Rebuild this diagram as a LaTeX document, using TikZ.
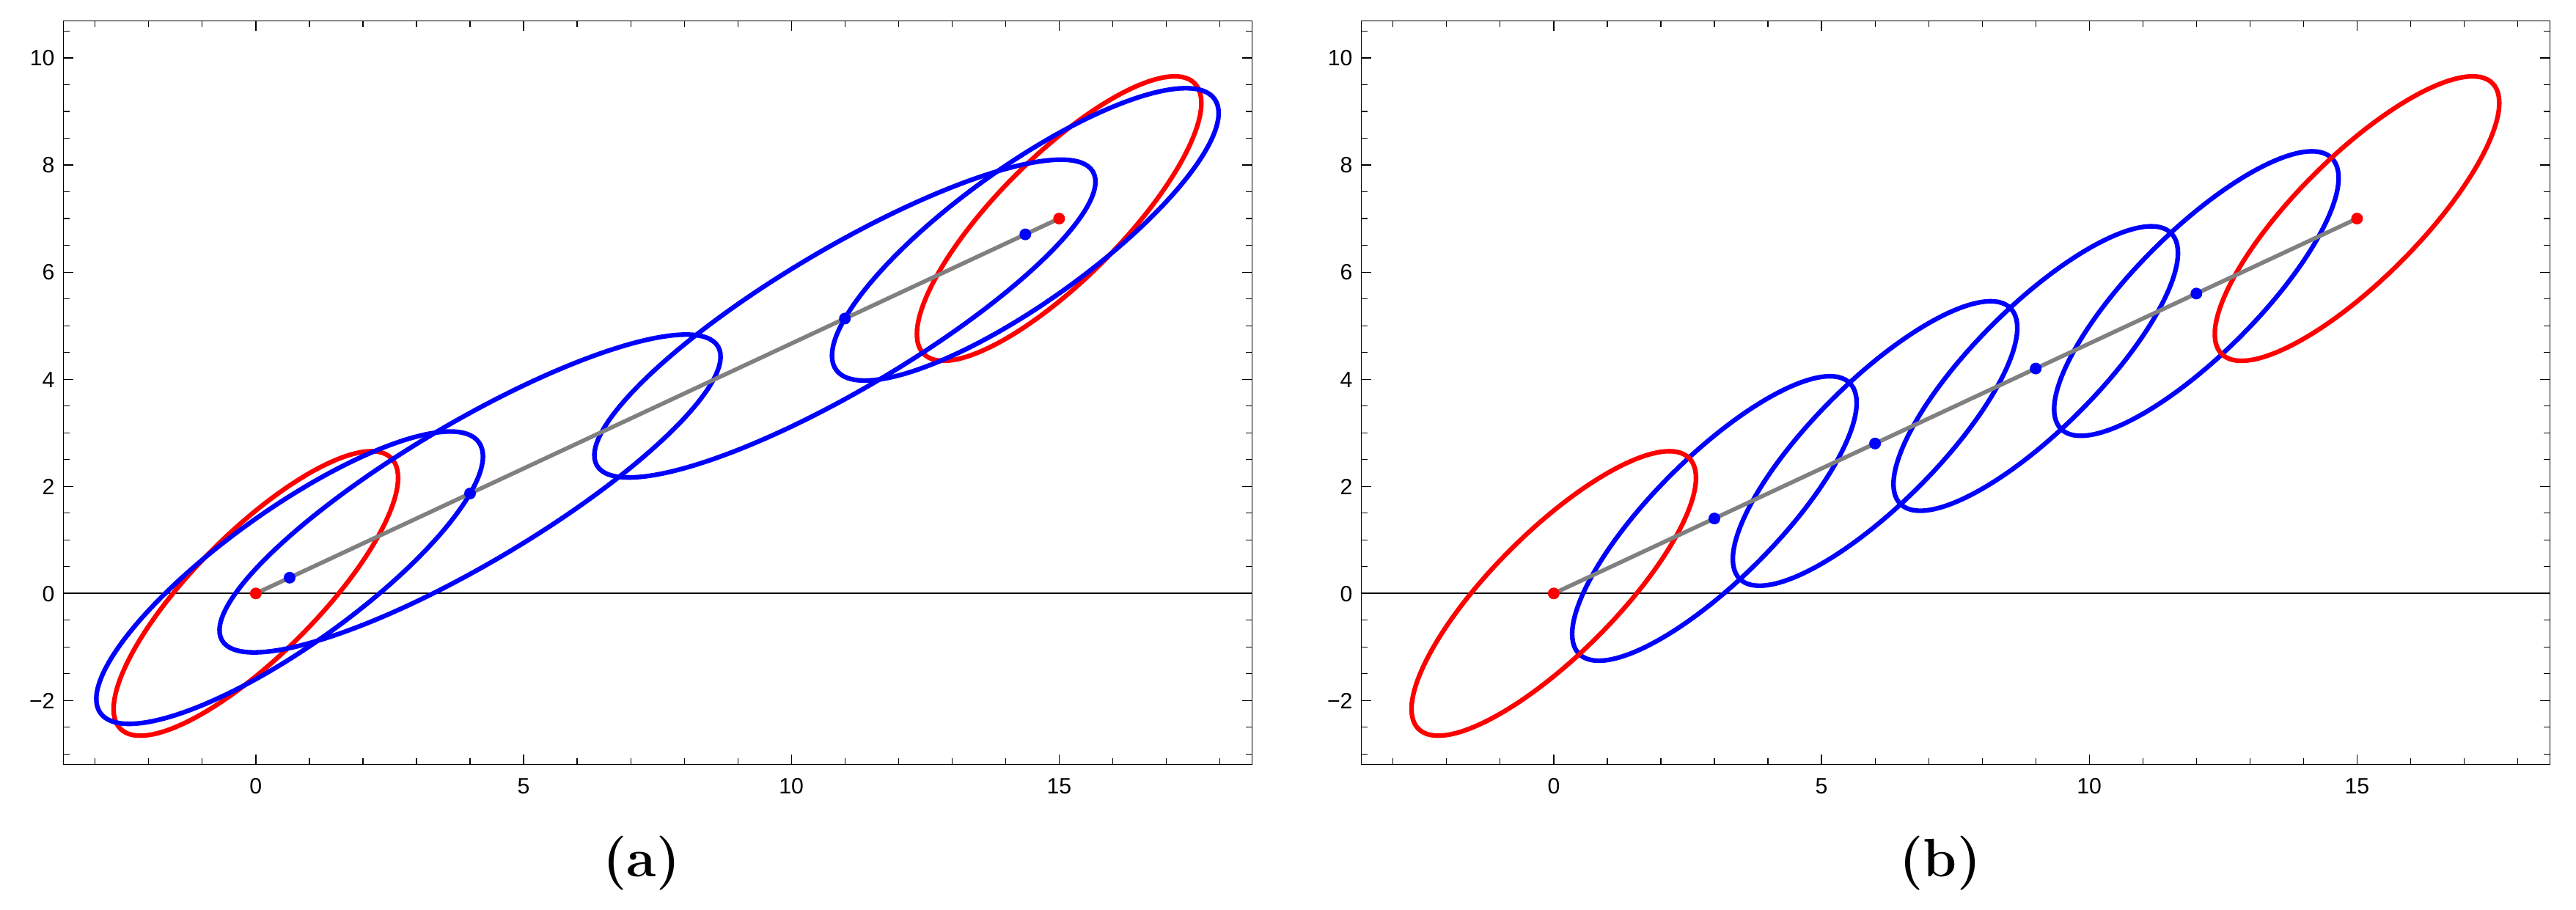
\documentclass[tikz,border=0pt]{standalone}
\usepackage{fontspec}
\newfontfamily\ticksf{Liberation Sans}
\definecolor{mred}{rgb}{1,0,0}
\definecolor{mblue}{rgb}{0,0,1}
\definecolor{mgray}{rgb}{0.5,0.5,0.5}
\tikzset{
  frameline/.style={line width=0.34pt, black},
  axisline/.style={line width=0.6pt, black},
  redell/.style={line width=1.8pt, mred},
  blueell/.style={line width=1.8pt, mblue},
  pathline/.style={line width=1.6pt, mgray},
  reddot/.style={circle, fill=mred, inner sep=0pt, minimum size=0.16cm},
  bluedot/.style={circle, fill=mblue, inner sep=0pt, minimum size=0.16cm},
  xticklab/.style={anchor=base, yshift=-0.407cm, inner sep=0pt, font=\ticksf\fontsize{8.6}{10}\selectfont},
  yticklab/.style={anchor=base east, xshift=-0.115cm, yshift=-3.08pt, inner sep=0pt, font=\ticksf\fontsize{8.6}{10}\selectfont},
  sublab/.style={anchor=base, inner sep=0pt, font=\bfseries\fontsize{21}{25}\selectfont}
}
\newcommand\drawplotframe{%
  \draw[axisline] (-3.59,0) -- (18.60,0);
  \draw[frameline] (-3.59,-3.19) rectangle (18.60,10.69);
  \foreach \x in {-3,...,18} {
    \draw[frameline] (\x,-3.19) -- ++(0pt,0.08cm);
    \draw[frameline] (\x,10.69) -- ++(0pt,-0.08cm);
  }
  \foreach \x in {0,5,10,15} {
    \draw[frameline] (\x,-3.19) -- ++(0pt,0.13cm);
    \draw[frameline] (\x,10.69) -- ++(0pt,-0.13cm);
    \node[xticklab] at (\x,-3.19) {\x};
  }
  \foreach \y in {-3,-2.5,...,10.5} {
    \draw[frameline] (-3.59,\y) -- ++(0.08cm,0pt);
    \draw[frameline] (18.60,\y) -- ++(-0.08cm,0pt);
  }
  \foreach \y/\t in {-2/−2,0/0,2/2,4/4,6/6,8/8,10/10} {
    \draw[frameline] (-3.59,\y) -- ++(0.13cm,0pt);
    \draw[frameline] (18.60,\y) -- ++(-0.13cm,0pt);
    \node[yticklab] at (-3.59,\y) {\t};
  }
}
\begin{document}
\begin{tikzpicture}
\useasboundingbox (0,0) rectangle (35.13,12.40);
% ---------------- panel (a)
\begin{scope}[shift={(3.489,4.307)}, x=0.7303cm, y=0.7303cm]
  \drawplotframe
  \coordinate (a0) at (0,0);
  \coordinate (a1) at (0.631,0.2945);
  \coordinate (a2) at (4,1.8667);
  \coordinate (a3) at (11,5.1333);
  \coordinate (a4) at (14.369,6.7055);
  \coordinate (a5) at (15,7);
  \draw[redell, rotate around={45:(a0)}] (a0) ellipse [x radius=3.575, y radius=1.149];
  \draw[redell, rotate around={45:(a5)}] (a5) ellipse [x radius=3.575, y radius=1.149];
  \draw[blueell, rotate around={35.58:(a1)}] (a1) ellipse [x radius=4.345, y radius=1.264];
  \draw[blueell, rotate around={30.66:(a2)}] (a2) ellipse [x radius=5.383, y radius=1.308];
  \draw[blueell, rotate around={30.66:(a3)}] (a3) ellipse [x radius=5.383, y radius=1.308];
  \draw[blueell, rotate around={35.58:(a4)}] (a4) ellipse [x radius=4.345, y radius=1.264];
  \draw[pathline] (a0) -- (a5);
  \node[reddot] (ra0) at (a0) {};
  \node[reddot] (ra5) at (a5) {};
  \node[bluedot] (ba1) at (a1) {};
  \node[bluedot] (ba2) at (a2) {};
  \node[bluedot] (ba3) at (a3) {};
  \node[bluedot] (ba4) at (a4) {};
\end{scope}
% ---------------- panel (b)
\begin{scope}[shift={(21.189,4.307)}, x=0.7303cm, y=0.7303cm]
  \drawplotframe
  \coordinate (b0) at (0,0);
  \coordinate (b1) at (3,1.4);
  \coordinate (b2) at (6,2.8);
  \coordinate (b3) at (9,4.2);
  \coordinate (b4) at (12,5.6);
  \coordinate (b5) at (15,7);
  \foreach \c in {b1,b2,b3,b4} {
    \draw[blueell, rotate around={45:(\c)}] (\c) ellipse [x radius=3.575, y radius=1.149];
  }
  \draw[redell, rotate around={45:(b0)}] (b0) ellipse [x radius=3.575, y radius=1.149];
  \draw[redell, rotate around={45:(b5)}] (b5) ellipse [x radius=3.575, y radius=1.149];
  \draw[pathline] (b0) -- (b5);
  \node[reddot] (rb0) at (b0) {};
  \node[reddot] (rb5) at (b5) {};
  \node[bluedot] (bb1) at (b1) {};
  \node[bluedot] (bb2) at (b2) {};
  \node[bluedot] (bb3) at (b3) {};
  \node[bluedot] (bb4) at (b4) {};
\end{scope}
% ---------------- sub-figure labels
\node[sublab] (laba) at (8.75,0.45) {(a)};
\node[sublab] (labb) at (26.46,0.45) {(b)};
\end{tikzpicture}
\end{document}
